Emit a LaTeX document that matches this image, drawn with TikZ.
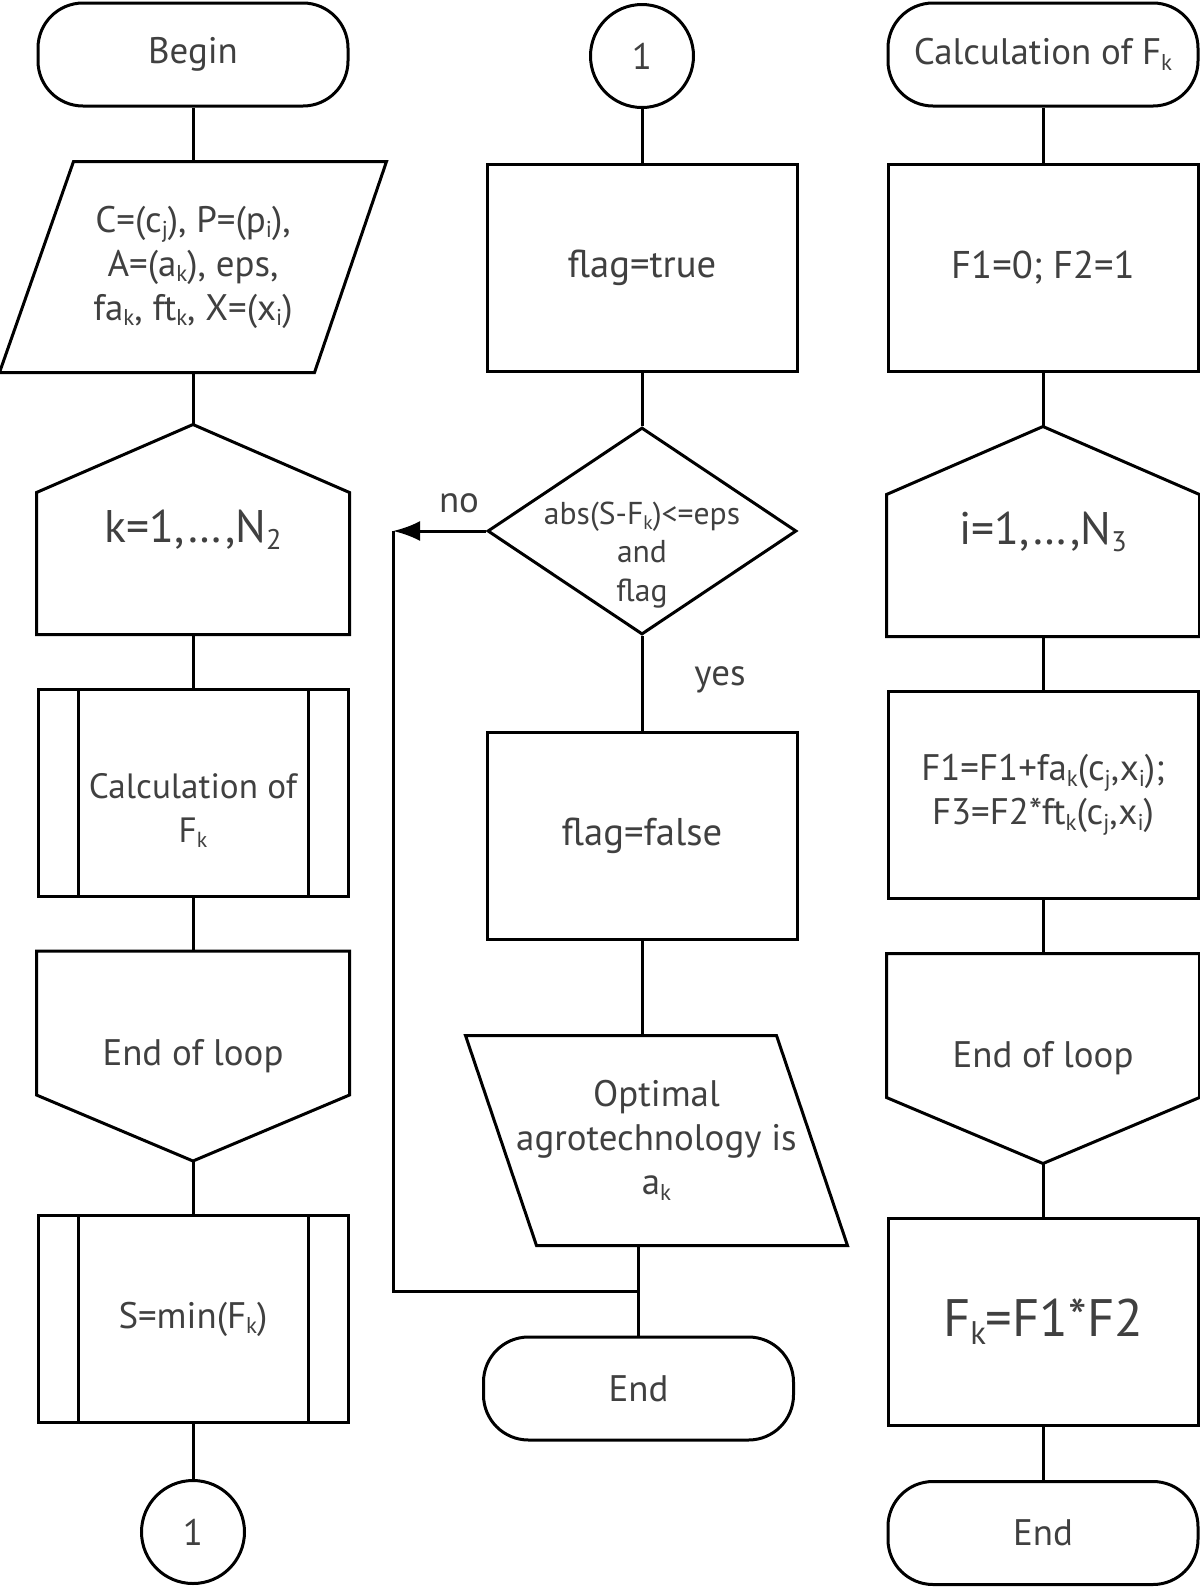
\documentclass[tikz,border=0pt]{standalone}
\usepackage{fontspec}
\setmainfont{PT Sans}
\usepackage{tikz}
\usetikzlibrary{arrows.meta,positioning,shapes.geometric}
\newcommand\ix[1]{\raisebox{-0.3ex}{\scalebox{0.62}{#1}}}

\begin{document}
\begin{tikzpicture}[x=0.1mm, y=0.1mm, line width=0.3mm, every node/.style={font=\fontsize{10.5}{12.5}\selectfont, text=black!75, align=center, inner sep=0pt}, term/.style={rectangle, rounded corners=4.5mm, draw, minimum width=31mm, minimum height=10.3mm}, proc/.style={rectangle, draw, minimum width=31mm, minimum height=20.7mm}, subproc/.style={proc, path picture={\draw ([xshift=4mm]path picture bounding box.north west) -- ([xshift=4mm]path picture bounding box.south west); \draw ([xshift=-4mm]path picture bounding box.north east) -- ([xshift=-4mm]path picture bounding box.south east);}}, conn/.style={circle, draw, minimum size=10.3mm}, shell/.style={minimum width=31mm, minimum height=20.7mm}, decide/.style={diamond, draw, minimum width=30.9mm, minimum height=20.7mm}, big/.style={font=\fontsize{13}{15}\selectfont}]
\useasboundingbox (0,0) rectangle (1200,-1588);
% left column: main program
\node[term] (begin) at (193,-54.5) {Begin};
\node[minimum width=38.4mm, minimum height=20.8mm] (input) at (193,-267) {C=(c\ix{j}), P=(p\ix{i}),\\A=(a\ix{k}), eps,\\fa\ix{k}, ft\ix{k}, X=(x\ix{i})};
\node[shell, big] (kloop) at (193,-529.5) {k=1,\dots,N\ix{2}};
\node[subproc, label={[yshift=-1.8mm, font=\fontsize{10}{12.5}\selectfont, align=center]center:{Calculation of\\F\ix{k}}}] (calcsub) at (193,-792.5) {};
\node[shell] (kend) at (193,-1056) {End of loop};
\node[subproc] (smin) at (193,-1319) {S=min(F\ix{k})};
\node[conn] (conbot) at (193,-1532) {1};
% middle column
\node[conn] (contop) at (642,-56) {1};
\node[proc, font=\fontsize{11}{13}\selectfont] (ftrue) at (642,-267.5) {flag=true};
\node[decide, label={[yshift=-2.4mm, font=\fontsize{9}{11}\selectfont, align=center]center:{abs(S-F\ix{k})<=eps\\and\\flag}}] (dec) at (642,-531) {};
\node[proc, font=\fontsize{11}{13}\selectfont] (ffalse) at (642,-836) {flag=false};
\node[minimum width=37.9mm, minimum height=20.7mm] (opt) at (656.5,-1140.5) {Optimal\\agrotechnology is\\a\ix{k}};
\node[term] (endm) at (638.5,-1388.5) {End};
\node (no) at (459,-503) {no};
\node (yes) at (720,-680) {yes};
\coordinate (back) at (393,-531);
\coordinate (joint) at (638.5,-1291);
% right column: calculation of F_k
\node[term] (calc) at (1043,-54.5) {Calculation of F\ix{k}};
\node[proc, font=\fontsize{11}{13}\selectfont] (finit) at (1043,-267.5) {F1=0; F2=1};
\node[shell, big] (iloop) at (1043,-531.5) {i=1,\dots,N\ix{3}};
\node[proc] (fsum) at (1043,-795) {F1=F1+fa\ix{k}(c\ix{j},x\ix{i});\\F3=F2*ft\ix{k}(c\ix{j},x\ix{i})};
\node[shell] (jend) at (1043,-1058.5) {End of loop};
\node[proc, font=\fontsize{15}{18}\selectfont] (fprod) at (1043,-1322) {F\ix{k}=F1*F2};
\node[term] (endr) at (1043,-1533) {End};
% outlines of the special shapes
\draw (input.south west) -- ++(31.5mm,0) -- (input.north east) -- ++(-31.3mm,0) -- cycle;
\draw (opt.north west) -- ++(31.1mm,0) -- (opt.south east) -- ++(-31.1mm,0) -- cycle;
\foreach \n in {kloop,iloop}
  \draw (\n.south west) -- ([yshift=-6.8mm]\n.north west) -- (\n.north) -- ([yshift=-6.8mm]\n.north east) -- (\n.south east) -- cycle;
\foreach \n in {kend,jend}
  \draw (\n.north west) -- (\n.north east) -- ([yshift=6.6mm]\n.south east) -- (\n.south) -- ([yshift=6.6mm]\n.south west) -- cycle;
% connectors
\draw (begin) -- (input);
\draw (input) -- (kloop);
\draw (kloop) -- (calcsub);
\draw (calcsub) -- (kend);
\draw (kend) -- (smin);
\draw (smin) -- (conbot);
\draw (contop) -- (ftrue);
\draw (ftrue) -- (dec);
\draw (dec) -- (ffalse);
\draw (ffalse.south) -- (ffalse.south |- opt.north);
\draw (endm.north |- opt.south) -- (endm);
\draw[-{Latex[length=2.7mm,width=2mm]}] (dec.west) -- (back);
\draw (back) |- (joint);
\draw (calc) -- (finit);
\draw (finit) -- (iloop);
\draw (iloop) -- (fsum);
\draw (fsum) -- (jend);
\draw (jend) -- (fprod);
\draw (fprod) -- (endr);
\end{tikzpicture}
\end{document}
